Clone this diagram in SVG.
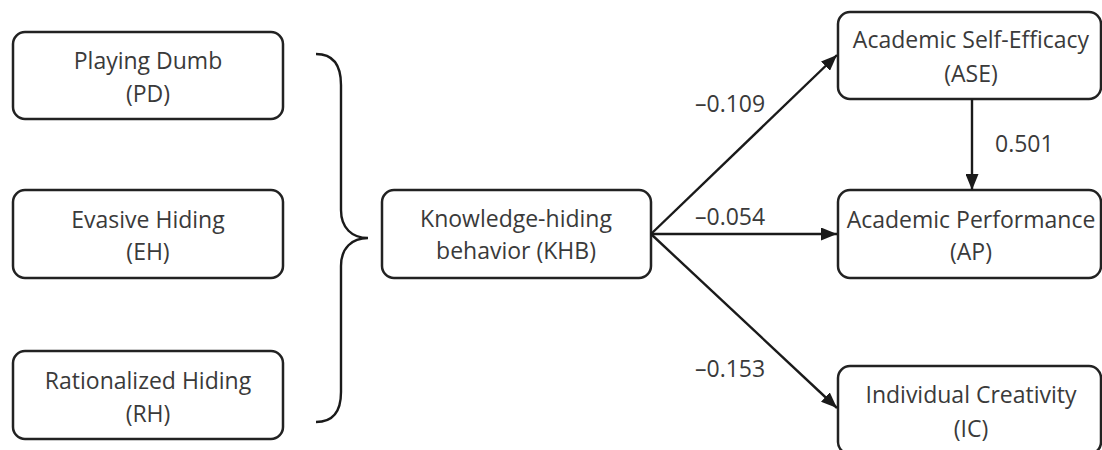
<svg xmlns="http://www.w3.org/2000/svg" width="1102" height="450" viewBox="0 0 1102 450">
<style>
.box{fill:#fff;stroke:#222;stroke-width:2.5}
.t{font-family:"Open Sans","Liberation Sans",sans-serif;font-size:23px;fill:#3a3a3a;text-anchor:middle}
.l{font-family:"Open Sans","Liberation Sans",sans-serif;font-size:23px;fill:#3a3a3a}
.c{stroke:#1a1a1a;stroke-width:2.4;fill:none}
</style>
<defs>
<marker id="ah" viewBox="0 0 16 13" refX="16" refY="6.5" markerWidth="16" markerHeight="13" markerUnits="userSpaceOnUse" orient="auto">
<path d="M0,0 L16,6.5 L0,13 Z" fill="#1a1a1a"/>
</marker>
</defs>
<rect width="1102" height="450" fill="#fff"/>
<g id="PD"><rect class="box" x="13" y="32" width="270" height="87" rx="12"/><text class="t" x="148" y="69">Playing Dumb</text><text class="t" x="148" y="102">(PD)</text></g>
<g id="EH"><rect class="box" x="13" y="190" width="270" height="88" rx="12"/><text class="t" x="148" y="228">Evasive Hiding</text><text class="t" x="148" y="260">(EH)</text></g>
<g id="RH"><rect class="box" x="13" y="351" width="270" height="88" rx="12"/><text class="t" x="148" y="389">Rationalized Hiding</text><text class="t" x="148" y="422">(RH)</text></g>
<g id="brace"><path class="c" d="M316,54 C333,54 341,64 341,85 L341,210 C341,228 352,238 368,238 C352,238 341,248 341,266 L341,392 C341,412 333,422 316,422"/></g>
<g id="KHB"><rect class="box" x="382" y="190" width="269" height="88" rx="12"/><text class="t" x="516" y="227">Knowledge-hiding</text><text class="t" x="516" y="259">behavior (KHB)</text></g>
<g id="ASE"><rect class="box" x="838" y="12" width="263" height="87" rx="12"/><text class="t" x="971" y="48">Academic Self-Efficacy</text><text class="t" x="971" y="82">(ASE)</text></g>
<g id="AP"><rect class="box" x="838" y="190" width="263" height="88" rx="12"/><text class="t" x="971" y="228">Academic Performance</text><text class="t" x="971" y="260">(AP)</text></g>
<g id="IC"><rect class="box" x="838" y="366" width="263" height="88" rx="12"/><text class="t" x="971" y="403">Individual Creativity</text><text class="t" x="971" y="437">(IC)</text></g>
<g id="connectors">
<line class="c" x1="651" y1="234" x2="837" y2="55" marker-end="url(#ah)"/>
<line class="c" x1="651" y1="234" x2="837" y2="234" marker-end="url(#ah)"/>
<line class="c" x1="651" y1="234" x2="837" y2="408" marker-end="url(#ah)"/>
<line class="c" x1="972" y1="99" x2="972" y2="190" marker-end="url(#ah)"/>
<text class="l" x="695" y="112">–0.109</text>
<text class="l" x="695" y="225">–0.054</text>
<text class="l" x="695" y="377">–0.153</text>
<text class="l" x="995" y="152">0.501</text>
</g>
</svg>
